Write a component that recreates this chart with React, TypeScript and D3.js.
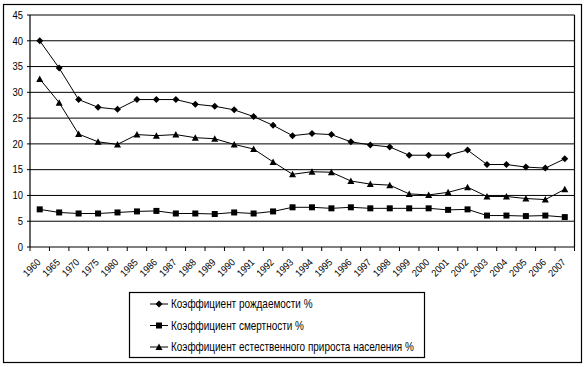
import React from "react";
import * as d3 from "d3";

const years = ["1960","1965","1970","1975","1980","1985","1986","1987","1988","1989","1990","1991","1992","1993","1994","1995","1996","1997","1998","1999","2000","2001","2002","2003","2004","2005","2006","2007"];
const birthRate = [40.0,34.7,28.6,27.1,26.7,28.6,28.6,28.6,27.7,27.3,26.6,25.3,23.6,21.6,22.0,21.8,20.4,19.8,19.4,17.8,17.8,17.8,18.8,16.0,16.0,15.5,15.3,17.1];
const deathRate = [7.3,6.7,6.5,6.5,6.7,6.9,7.0,6.5,6.5,6.4,6.7,6.5,6.9,7.7,7.7,7.5,7.7,7.5,7.5,7.5,7.5,7.2,7.3,6.1,6.1,6.0,6.1,5.8];
const naturalIncrease = [32.6,28.0,21.9,20.4,19.9,21.8,21.6,21.8,21.2,21.0,19.9,19.0,16.5,14.1,14.6,14.5,12.8,12.2,12.0,10.3,10.1,10.6,11.6,9.8,9.8,9.4,9.2,11.2];
const yTicks = [0,5,10,15,20,25,30,35,40,45];
const seriesNames = ["Коэффициент рождаемости %","Коэффициент смертности %","Коэффициент естественного прироста населения %"];
const markers = ["diamond","square","triangle"];

const W = 588, H = 367;
const plot = { left: 30, right: 574.5, top: 15, bottom: 247 };
const font = "'Liberation Sans', Arial, sans-serif";

function Marker({ kind, x, y }: { kind: string; x: number; y: number }) {
  if (kind === "diamond") return <path d={`M${x},${y - 3.5}L${x + 3.5},${y}L${x},${y + 3.5}L${x - 3.5},${y}Z`} fill="#000" />;
  if (kind === "square") return <rect x={x - 3} y={y - 3} width={6} height={6} fill="#000" />;
  return <path d={`M${x},${y - 3.5}L${x + 3.5},${y + 3}L${x - 3.5},${y + 3}Z`} fill="#000" />;
}

export default function App() {
  const x = d3.scaleBand<string>().domain(years).range([plot.left, plot.right]);
  const y = d3.scaleLinear().domain([0, 45]).range([plot.bottom, plot.top]);
  const cx = (i: number) => (x(years[i]) as number) + x.bandwidth() / 2;
  const line = d3.line<number>().x((_, i) => cx(i)).y((d) => y(d));
  const allSeries = [birthRate, deathRate, naturalIncrease];
  const boundaries = years.map((yr) => x(yr) as number).concat([plot.right]);
  const legend = { x: 129, y: 292, w: 295, h: 65 };

  return (
    <svg width={W} height={H} style={{ position: "absolute", left: 0, top: 0, background: "#fff" }}>
      <rect x={3.5} y={4.5} width={578} height={358} fill="#fff" stroke="#000" strokeWidth={1.2} />
      {yTicks.map((t) => (
        <g key={t}>
          {t > 0 && <line x1={plot.left} x2={plot.right} y1={y(t)} y2={y(t)} stroke="#000" strokeWidth={1} />}
          <line x1={plot.left - 3} x2={plot.left} y1={y(t)} y2={y(t)} stroke="#000" />
          <text x={23} y={y(t)} dy="0.36em" textAnchor="end" fontFamily={font} fontSize={10.5} transform={`translate(23,0) scale(0.9,1) translate(-23,0)`}>{t}</text>
        </g>
      ))}
      <line x1={plot.right} x2={plot.right} y1={plot.top} y2={plot.bottom} stroke="#000" strokeWidth={1.2} />
      <line x1={plot.left} x2={plot.left} y1={plot.top} y2={plot.bottom} stroke="#000" strokeWidth={1.2} />
      <line x1={plot.left} x2={plot.right} y1={plot.bottom} y2={plot.bottom} stroke="#000" strokeWidth={1.2} />
      {boundaries.map((b, i) => (
        <line key={i} x1={b} x2={b} y1={plot.bottom} y2={plot.bottom + 4} stroke="#000" />
      ))}
      {years.map((yr, i) => (
        <text key={yr} fontFamily={font} fontSize={10} textAnchor="end" transform={`translate(${cx(i) + 1.5},${plot.bottom + 16}) rotate(-45) scale(0.9,1)`}>{yr}</text>
      ))}
      {allSeries.map((s, k) => (
        <g key={k}>
          <path d={line(s) as string} fill="none" stroke="#000" strokeWidth={1} />
          {s.map((v, i) => <Marker key={i} kind={markers[k]} x={cx(i)} y={y(v)} />)}
        </g>
      ))}
      <rect x={legend.x + 0.5} y={legend.y + 0.5} width={legend.w} height={legend.h} fill="#fff" stroke="#000" strokeWidth={1.2} />
      {seriesNames.map((name, k) => {
        const ly = legend.y + 12 + k * 21.5;
        return (
          <g key={name}>
            <line x1={150} x2={168} y1={ly} y2={ly} stroke="#000" />
            <Marker kind={markers[k]} x={159} y={ly} />
            <text x={0} y={0} dy="0.36em" fontFamily={font} fontSize={12} transform={`translate(171,${ly}) scale(0.83,1)`}>{name}</text>
          </g>
        );
      })}
    </svg>
  );
}
